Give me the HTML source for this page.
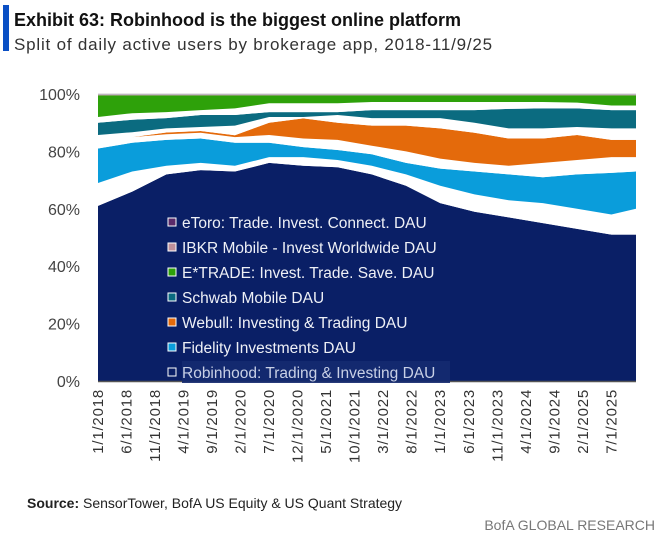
<!DOCTYPE html>
<html><head><meta charset="utf-8">
<style>
body{margin:0;background:#fff;width:661px;height:540px;overflow:hidden;font-family:"Liberation Sans",sans-serif;}
#wrap{position:relative;width:661px;height:540px;}
.t{position:absolute;white-space:nowrap;}
</style></head>
<body>
<div id="wrap">
<div style="position:absolute;left:3px;top:5px;width:6px;height:46px;background:#0a4fc4"></div>
<div class="t" style="left:14px;top:10px;font-size:18px;font-weight:bold;color:#111;letter-spacing:0px">Exhibit 63: Robinhood is the biggest online platform</div>
<div class="t" style="left:14px;top:35px;font-size:17px;color:#333;letter-spacing:0.8px">Split of daily active users by brokerage app, 2018-11/9/25</div>
<svg id="chart" width="661" height="540" style="position:absolute;left:0;top:0"></svg>
<div class="t" style="left:27px;top:495px;font-size:14px;color:#222"><b>Source:</b> SensorTower, BofA US Equity &amp; US Quant Strategy</div>
<div class="t" style="right:6px;top:517px;font-size:14px;color:#777">BofA GLOBAL RESEARCH</div>
</div>
<script>
const times = [2018,2018.5,2019,2019.5,2020,2020.5,2021,2021.5,2022,2022.5,2023,2023.5,2024,2024.5,2025,2025.5,2025.86];
const robinhood = [61,66,72,73.5,73,76,75,74.5,72,68,62,59,57,55,53,51,51];
const gapA = [8,7,3,2.5,2,2,3,2.5,3,4,6,6,6,7,7,7,9];
const fidelity = [12,10,9,8.5,8,5,3.5,3.5,4,4,6,8,9,9,12,14.5,13];
const gapB = [2,2,2,2,2,2.7,3,3.5,3,4,3.5,3,3,5,5,5.5,5];
const webull = [0,0,0.6,0.6,0.6,4.3,7,6,7,9,10.5,10.5,9.5,8.5,8.7,6,6];
const gapC = [2.7,1.7,1.4,1.4,3.4,2,0.5,2.7,2.6,2.6,3.6,3.5,3.5,3.5,2.8,4,4];
const schwab = [4.3,4.3,3.6,4.2,3.7,1.7,1.7,1,2.8,2.8,2.8,4.4,6.8,7,6.5,6.4,6.4];
const gapD = [2,2.3,2.1,1.7,2.3,3.1,3.1,3.1,2.8,2.8,2.8,2.8,2.4,2.2,2,1.6,1.6];
const etrade = [7.5,6.2,5.8,5.1,4.5,2.7,2.7,2.7,2.3,2.3,2.3,2.3,2.3,2.3,2.5,3.5,3.5];
const ibkr = [0.2,0.2,0.2,0.2,0.2,0.2,0.2,0.2,0.2,0.2,0.2,0.2,0.2,0.2,0.2,0.2,0.2];
const etoro = [0.1,0.1,0.1,0.1,0.1,0.1,0.1,0.1,0.1,0.1,0.1,0.1,0.1,0.1,0.1,0.1,0.1];
const yTicks = ["0%","20%","40%","60%","80%","100%"];
const xTicks = ["1/1/2018","6/1/2018","11/1/2018","4/1/2019","9/1/2019","2/1/2020","7/1/2020","12/1/2020","5/1/2021","10/1/2021","3/1/2022","8/1/2022","1/1/2023","6/1/2023","11/1/2023","4/1/2024","9/1/2024","2/1/2025","7/1/2025"];
const legendLabels = ["eToro: Trade. Invest. Connect. DAU","IBKR Mobile - Invest Worldwide DAU","E*TRADE: Invest. Trade. Save. DAU","Schwab Mobile DAU","Webull: Investing & Trading DAU","Fidelity Investments DAU","Robinhood: Trading & Investing DAU"];

const NS="http://www.w3.org/2000/svg";
const svg=document.getElementById('chart');
const X0=98,X1=636,Y0=381,Y100=94;
const t0=2018,t1=2025.86;
function xs(t){return X0+(t-t0)/(t1-t0)*(X1-X0);}
function ys(v){return Y0-v/100*(Y0-Y100);}
function mk(tag,attrs){const e=document.createElementNS(NS,tag);for(const k in attrs)e.setAttribute(k,attrs[k]);svg.appendChild(e);return e;}

const topLine=mk('rect',{x:X0,y:ys(100)-1,width:X1-X0,height:2,fill:'#e6e6e6'});



const layers=[
 {name:'robinhood',v:robinhood,c:'#0a1f66'},
 {name:'gap-a',v:gapA,c:'#ffffff'},
 {name:'fidelity',v:fidelity,c:'#0a9ddb'},
 {name:'gap-b',v:gapB,c:'#ffffff'},
 {name:'webull',v:webull,c:'#e46a0b'},
 {name:'gap-c',v:gapC,c:'#ffffff'},
 {name:'schwab',v:schwab,c:'#0b6b80'},
 {name:'gap-d',v:gapD,c:'#ffffff'},
 {name:'etrade',v:etrade,c:'#2ea10a'},
 {name:'ibkr',v:ibkr,c:'#c0909a'},
 {name:'etoro',v:etoro,c:'#5a2a6a'}
];
let base=times.map(()=>0);
layers.forEach(L=>{
  const top=base.map((b,i)=>b+L.v[i]);
  let d='M'+times.map((t,i)=>xs(t).toFixed(1)+','+ys(top[i]).toFixed(1)).join(' L');
  for(let i=times.length-1;i>=0;i--) d+=' L'+xs(times[i]).toFixed(1)+','+ys(base[i]).toFixed(1);
  d+='Z';
  const p=mk('path',{d:d,fill:L.c});
  
  
  base=top;
});

const axis=mk('line',{x1:X0,y1:Y0+0.5,x2:X1,y2:Y0+0.5,stroke:'#555','stroke-width':1.5});



yTicks.forEach((lab,i)=>{
  const tx=mk('text',{x:80,y:ys(i*20)+6,'text-anchor':'end','font-size':16,fill:'#444','font-family':'Liberation Sans, sans-serif'});
  tx.textContent=lab;
  
  
});

const step=(xs(2025.5)-xs(2018))/(xTicks.length-1);
xTicks.forEach((lab,i)=>{
  const x=xs(2018)+i*step+5;
  const tx=mk('text',{x:0,y:0,'text-anchor':'end','font-size':15,'letter-spacing':'0.8',fill:'#333','font-family':'Liberation Sans, sans-serif',transform:'translate('+x.toFixed(1)+',389) rotate(-90)'});
  tx.textContent=lab;
  
  
});

const swCols=['#5a2a6a','#c0909a','#2ea10a','#0b6b80','#e46a0b','#0a9ddb','#0a1f66'];
const hl=mk('rect',{x:182,y:361,width:268,height:22,fill:'#142a70',opacity:0.9});


legendLabels.forEach((lab,i)=>{
  const cy=222+i*25;
  const r=mk('rect',{x:168,y:cy-4,width:8,height:8,fill:swCols[i],stroke:'#ffffff','stroke-width':1});
  
  
  const tx=mk('text',{x:182,y:cy+6,'font-size':15.5,fill:i==6?'#c8d0e6':'#eef0f6','font-family':'Liberation Sans, sans-serif'});
  tx.textContent=lab;
  
  
});
</script>
</body></html>
